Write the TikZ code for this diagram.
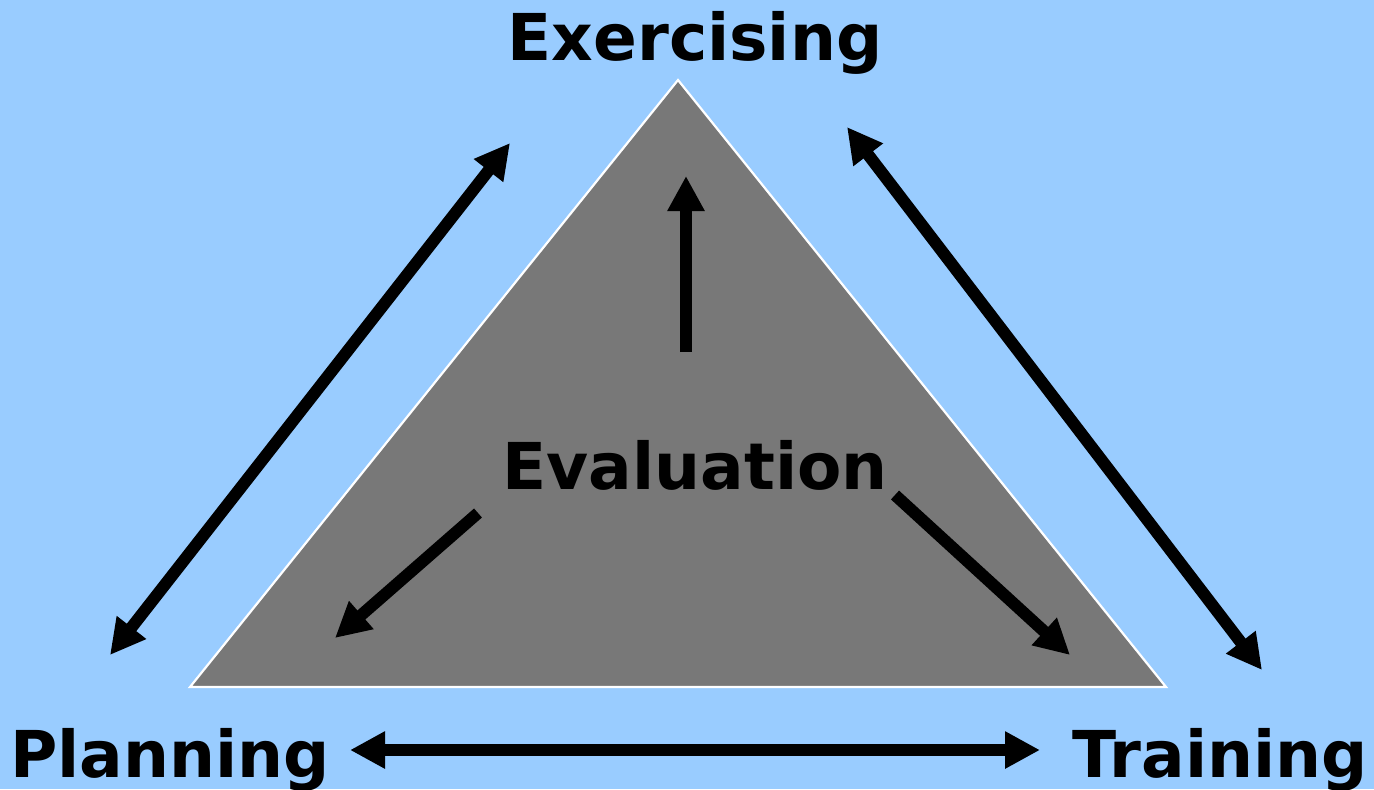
\documentclass[tikz,border=0pt]{standalone}
\usepackage{fontspec}
\setmainfont{DejaVu Sans}
\usetikzlibrary{arrows.meta}
\definecolor{bgblue}{HTML}{99CCFF}
\definecolor{trigray}{HTML}{787878}
\tikzset{
  lbl/.style={font=\fontsize{32.3}{38}\selectfont\bfseries, text=black, inner sep=0pt, anchor=base},
  tip/.style={Triangle[length=17.5pt,width=17.5pt]},
  arr/.style={line width=6pt, -{Triangle[length=17.5pt,width=17.5pt]}},
  darr/.style={line width=6pt, {Triangle[length=17.5pt,width=17.5pt]}-{Triangle[length=17.5pt,width=17.5pt]}},
}
\begin{document}
\begin{tikzpicture}[x=0.5pt,y=-0.5pt]
\fill[bgblue] (0,0) rectangle (1374,789);
\useasboundingbox (0,0) rectangle (1374,789);
% triangle
\coordinate (apex) at (678,80);
\coordinate (bl) at (190,687);
\coordinate (br) at (1166,687);
\draw[white, line width=1.1pt, fill=trigray, line join=miter] (apex) -- (br) -- (bl) -- cycle;
% labels
\node[lbl] (ex) at (695,60) {Exercising};
\node[lbl] (ev) at (695,489) {Evaluation};
\node[lbl, anchor=base west] (pl) at (10,777) {Planning};
\node[lbl, anchor=base east] (tr) at (1368,777) {Training};
% arrow endpoints
\coordinate (u1) at (686,352);
\coordinate (u2) at (686,176);
\coordinate (l1) at (478,513);
\coordinate (l2) at (335,638);
\coordinate (r1) at (895,495);
\coordinate (r2) at (1070,655);
\coordinate (a1) at (110,655);
\coordinate (a2) at (510,143);
\coordinate (b1) at (847,127);
\coordinate (b2) at (1262,670);
\coordinate (c1) at (350,750);
\coordinate (c2) at (1040,750);
\draw[arr] (u1) -- (u2);
\draw[arr] (l1) -- (l2);
\draw[arr] (r1) -- (r2);
\draw[darr] (a1) -- (a2);
\draw[darr] (b1) -- (b2);
\draw[darr] (c1) -- (c2);
\end{tikzpicture}
\end{document}
